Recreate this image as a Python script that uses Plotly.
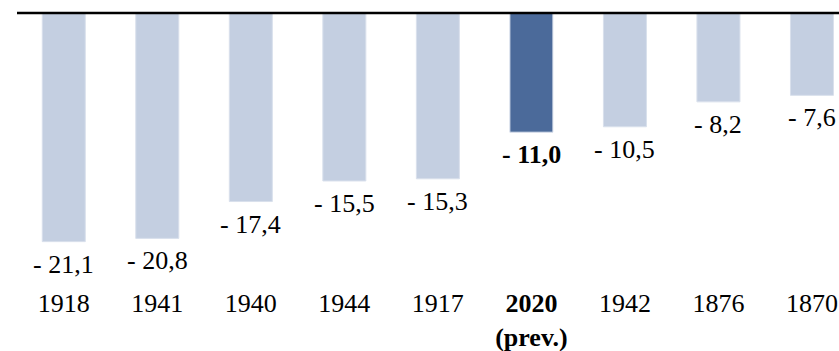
import plotly.graph_objects as go

# Worst annual GDP contractions (%), with the 2020 forecast highlighted
years = ["1918", "1941", "1940", "1944", "1917", "2020", "1942", "1876", "1870"]
values = [-21.1, -20.8, -17.4, -15.5, -15.3, -11.0, -10.5, -8.2, -7.6]
highlight = "2020"

tick_labels = ["<b>2020</b><br><b>(prev.)</b>" if y == highlight else y for y in years]
bar_colors = ["#4B6A9A" if y == highlight else "#C4CFE1" for y in years]

FONT = "Liberation Serif"
FS = 26

fig = go.Figure(
    go.Bar(
        x=years,
        y=values,
        marker=dict(color=bar_colors, line=dict(color="#D9E0EC", width=1)),
        hoverinfo="skip",
    )
)

# Value labels beneath each bar (positioned by category index)
for i, (y, v) in enumerate(zip(years, values)):
    txt = "- " + f"{abs(v):.1f}".replace(".", ",")
    if y == highlight:
        txt = f"<b>{txt}</b>"
    fig.add_annotation(
        x=i, y=v, xref="x", yref="y", text=txt, showarrow=False,
        yanchor="top", yshift=-6,
        font=dict(family=FONT, size=FS, color="black"),
    )

# Zero baseline across the top of the plot area
fig.add_shape(
    type="line", xref="paper", yref="paper", x0=0, x1=1, y0=1, y1=1,
    line=dict(color="black", width=2.5),
)

fig.update_layout(
    width=839, height=351,
    margin=dict(l=17, r=0, t=13, b=66),
    plot_bgcolor="white", paper_bgcolor="white",
    bargap=0.54,
    showlegend=False,
    font=dict(family=FONT, size=FS, color="black"),
)
fig.update_xaxes(
    type="category",
    categoryorder="array", categoryarray=years,
    tickmode="array", tickvals=years, ticktext=tick_labels,
    range=[-0.5, 8.289],
    showgrid=False, showline=False, zeroline=False, ticks="",
    tickfont=dict(family=FONT, size=FS, color="black"),
)
fig.update_yaxes(
    range=[-25.1, 0],
    visible=False, showgrid=False, zeroline=False,
)

fig.write_html("out.html")
